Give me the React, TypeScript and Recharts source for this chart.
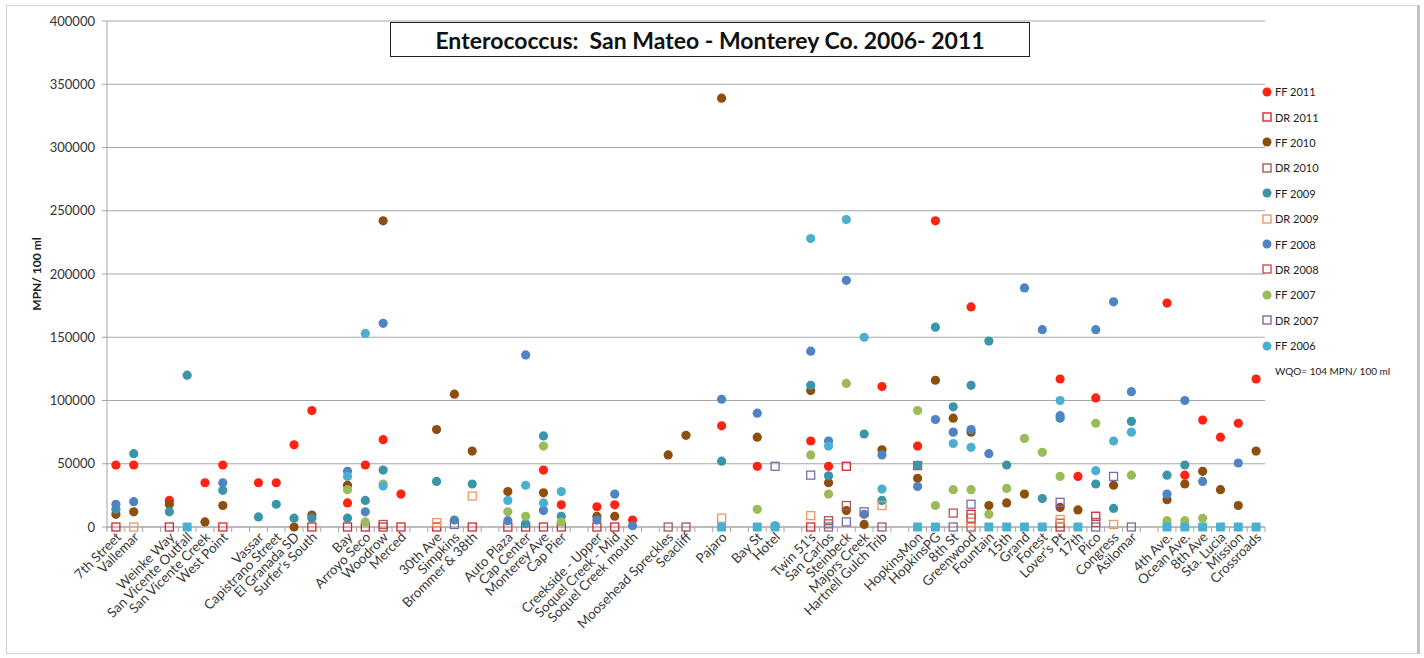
import React from "react";
import { ScatterChart, Scatter, XAxis, YAxis, CartesianGrid, Legend } from "recharts";

const sites = [
  "7th Street", "Vallemar", "",
  "Weinke Way", "San Vicente Outfall", "San Vicente Creek", "West Point", "",
  "Vassar", "Capistrano Street", "El Granada SD", "Surfer's South", "",
  "Bay", "Arroyo Seco", "Woodrow", "Merced", "",
  "30th Ave", "Simpkins", "Brommer & 38th", "",
  "Auto Plaza", "Cap Center", "Monterey Ave", "Cap Pier", "",
  "Creekside - Upper", "Soquel Creek - Mid", "Soquel Creek mouth", "",
  "Moosehead Spreckles", "Seacliff", "",
  "Pajaro", "",
  "Bay St", "Hotel", "",
  "Twin 51's", "San Carlos", "Steinbeck", "Majors Creek", "Hartnell Gulch Trib", "",
  "HopkinsMon", "HopkinsPG", "8th St", "Greenwood", "Fountain", "15th", "Grand", "Forest", "Lover's Pt", "17th", "Pico", "Congress", "Asilomar", "",
  "4th Ave.", "Ocean Ave.", "8th Ave", "Sta. Lucia", "Mission", "Crossroads",
];

const _ = null;

// MPN / 100 ml, one entry per slot in `sites` (null = no sample)
const ff2011 = [
  49000, 49000, _,
  21000, _, 35000, 49000, _,
  35000, 35000, 65000, 92000, _,
  19000, 49000, 69000, 26000, _,
  _, _, _, _,
  _, _, 45000, 17500, _,
  16000, 17500, 5500, _,
  _, _, _,
  80000, _,
  48000, _, _,
  68000, 48000, _, _, 111000, _,
  64000, 242000, _, 174000, _, _, _, _, 117000, 40000, 102000, _, _, _,
  177000, 41000, 84500, 71000, 82000, 117000,
];
const dr2011 = [
  0, _, _,
  0, _, _, 0, _,
  _, _, _, 0, _,
  0, 0, 0, 0, _,
  0, _, 0, _,
  0, 0, 0, 0, _,
  0, 0, _, _,
  _, _, _,
  _, _,
  _, _, _,
  0, _, 48000, _, _, _,
  _, _, _, 10000, _, _, _, _, 0, _, 8500, _, _, _,
  _, _, _, _, _, _,
];
const ff2010 = [
  10000, 12000, _,
  18000, _, 4000, 17000, _,
  _, _, 0, 9500, _,
  33000, _, 242000, _, _,
  77000, 105000, 60000, _,
  28000, _, 27000, _, _,
  8500, 8500, _, _,
  57000, 72500, _,
  339000, _,
  71000, _, _,
  108000, 35000, 13000, 2000, 61000, _,
  38500, 116000, 86000, 75000, 17000, 19000, 26000, _, 15500, 13500, _, 33000, _, _,
  21600, 34000, 44000, 29500, 17000, 60000,
];
const dr2010 = [
  _, _, _,
  _, _, _, _, _,
  _, _, _, _, _,
  _, _, 2000, _, _,
  _, _, _, _,
  _, _, _, _, _,
  _, _, _, _,
  0, 0, _,
  _, _,
  _, _, _,
  _, 5000, 17000, _, 0, _,
  48500, _, _, 0, _, _, _, _, 3000, _, 3600, _, _, _,
  _, _, _, _, _, _,
];
const ff2009 = [
  14000, 58000, _,
  12000, 120000, _, 29000, _,
  8000, 18000, 7000, 7000, _,
  7000, 21000, 45000, _, _,
  36000, 5500, 34000, _,
  _, 2500, 72000, 8500, _,
  _, _, _, _,
  _, _, _,
  52000, _,
  _, 1000, _,
  112000, 40500, _, 73500, 21000, _,
  49000, 158000, 95000, 112000, 147000, 49000, _, 22500, 86000, _, 34000, 14700, 83500, _,
  41000, 49000, _, _, _, _,
];
const dr2009 = [
  _, 0, _,
  _, _, _, _, _,
  _, _, _, _, _,
  _, _, _, _, _,
  3500, _, 24500, _,
  _, _, _, _, _,
  _, _, _, _,
  _, _, _,
  7000, _,
  _, _, _,
  9000, _, _, _, 17000, _,
  _, _, _, 3600, _, _, _, _, 6000, _, _, 2000, _, _,
  _, _, _, _, _, _,
];
const ff2008 = [
  18000, 20000, _,
  _, _, _, 35000, _,
  _, _, _, _, _,
  44000, 12000, 161000, _, _,
  _, _, _, _,
  5000, 136000, 13000, _, _,
  5500, 26000, 1000, _,
  _, _, _,
  101000, _,
  90000, _, _,
  139000, 68000, 195000, 10000, 57000, _,
  32000, 85000, 75000, 77000, 58000, _, 189000, 156000, 88000, _, 156000, 178000, 107000, _,
  26000, 100000, 36000, _, 50600, _,
];
const dr2008 = [
  _, _, _,
  _, _, _, _, _,
  _, _, _, _, _,
  _, _, _, _, _,
  _, _, _, _,
  _, _, _, _, _,
  _, _, _, _,
  _, _, _,
  _, _,
  _, _, _,
  _, 2500, _, _, _, _,
  _, _, 11000, 7000, _, _, _, _, _, _, _, _, _, _,
  _, _, _, _, _, _,
];
const ff2007 = [
  _, _, _,
  _, _, _, _, _,
  _, _, _, _, _,
  29500, 4000, 34000, _, _,
  _, _, _, _,
  12000, 8500, 64000, 4000, _,
  _, _, _, _,
  _, _, _,
  _, _,
  14000, _, _,
  57000, 26000, 113500, _, _, _,
  92000, 17000, 29500, 29500, 10000, 30500, 70000, 59000, 40000, _, 82000, _, 41000, _,
  5000, 5000, 6900, _, _, _,
];
const dr2007 = [
  _, _, _,
  _, _, _, _, _,
  _, _, _, _, _,
  _, _, _, _, _,
  _, 2000, _, _,
  _, _, _, _, _,
  _, _, _, _,
  _, _, _,
  _, _,
  _, 48000, _,
  41000, 0, 4000, 12000, _, _,
  _, _, 0, 18000, _, _, _, _, 19500, _, 0, 40000, 0, _,
  _, _, _, _, _, _,
];
const ff2006 = [
  _, _, _,
  _, _, _, _, _,
  _, _, _, _, _,
  40000, 153000, 32500, _, _,
  _, _, _, _,
  21000, 33000, 19000, 28000, _,
  _, _, _, _,
  _, _, _,
  _, _,
  _, _, _,
  228000, 64000, 243000, 150000, 30000, _,
  _, _, 66000, 63000, _, _, _, _, 100000, _, 44500, 68000, 75000, _,
  _, _, _, _, _, _,
];
// non-detects from 2006, plotted on the axis (no legend entry)
const dr2006 = [
  _, _, _,
  _, 0, _, _, _,
  _, _, _, _, _,
  _, _, _, _, _,
  _, _, _, _,
  _, _, _, _, _,
  _, _, _, _,
  _, _, _,
  0, _,
  0, 0, _,
  _, _, _, _, _, _,
  0, 0, _, _, 0, 0, 0, 0, _, 0, _, _, _, _,
  0, 0, 0, 0, 0, 0,
];

const yTicks = [0, 50000, 100000, 150000, 200000, 250000, 300000, 350000, 400000];

type Kind = "dot" | "box" | "fill";
const series: { name: string; values: (number | null)[]; color: string; kind: Kind; legend?: boolean }[] = [
  { name: "FF 2011", values: ff2011, color: "#FF2314", kind: "dot" },
  { name: "DR 2011", values: dr2011, color: "#D4282C", kind: "box" },
  { name: "FF 2010", values: ff2010, color: "#8E4E0E", kind: "dot" },
  { name: "DR 2010", values: dr2010, color: "#A55A56", kind: "box" },
  { name: "FF 2009", values: ff2009, color: "#3A95A8", kind: "dot" },
  { name: "DR 2009", values: dr2009, color: "#EE9860", kind: "box" },
  { name: "FF 2008", values: ff2008, color: "#4F84C4", kind: "dot" },
  { name: "DR 2008", values: dr2008, color: "#C9504D", kind: "box" },
  { name: "FF 2007", values: ff2007, color: "#9BBB59", kind: "dot" },
  { name: "DR 2007", values: dr2007, color: "#7D6AA6", kind: "box" },
  { name: "FF 2006", values: ff2006, color: "#4BB0CF", kind: "dot" },
  { name: "DR 2006", values: dr2006, color: "#4BB0CF", kind: "fill", legend: false },
];

const toPoints = (values: (number | null)[]) =>
  values.flatMap((v, i) => (v == null ? [] : [{ x: i, y: v }]));

const markShape = (kind: Kind, color: string) => (p: any) => {
  if (kind === "dot") return <circle cx={p.cx} cy={p.cy} r={4.6} fill={color} />;
  if (kind === "fill")
    return <rect x={p.cx - 4.5} y={p.cy - 4.5} width={9} height={9} rx={1.2} fill={color} />;
  return (
    <rect x={p.cx - 4} y={p.cy - 4} width={8} height={8} fill="none" stroke={color} strokeWidth={1.3} />
  );
};

const xTicks = Array.from({ length: sites.length * 2 + 1 }, (_v, i) => -0.5 + i * 0.5);

const SiteTick = (props: any) => {
  const { x, y, payload } = props;
  const v = payload.value;
  if (!Number.isInteger(v)) {
    return <line x1={x} x2={x} y1={y} y2={y + 5} stroke="#a6a6a6" />;
  }
  const name = sites[v];
  if (!name) return <g />;
  const tx = x + 6;
  const ty = y + 11;
  return (
    <text
      x={tx}
      y={ty}
      transform={`rotate(-45 ${tx} ${ty})`}
      textAnchor="end"
      fontSize={13.5}
      fontFamily="Lato"
      fill="#3a3a3a"
    >
      {name}
    </text>
  );
};

const LegendIcon = ({ kind, color }: { kind: Kind; color: string }) => (
  <svg width={12} height={12} style={{ display: "block" }}>
    {kind === "dot" ? (
      <circle cx={6} cy={6} r={4.5} fill={color} />
    ) : (
      <rect x={2} y={2} width={8} height={8} fill="none" stroke={color} strokeWidth={1.4} />
    )}
  </svg>
);

const renderLegend = () => (
  <div style={{ fontFamily: "Lato", fontSize: 11, color: "#222" }}>
    {series
      .filter((s) => s.legend !== false)
      .map((s) => (
        <div key={s.name} style={{ height: 25.4, display: "flex", alignItems: "center" }}>
          <LegendIcon kind={s.kind} color={s.color} />
          <span style={{ marginLeft: 2 }}>{s.name}</span>
        </div>
      ))}
    <div style={{ height: 25.4, display: "flex", alignItems: "center", paddingLeft: 14, fontSize: 10 }}>
      WQO= 104 MPN/ 100 ml
    </div>
  </div>
);

export default function App() {
  return (
    <div style={{ position: "absolute", left: 0, top: 0, width: 1424, height: 658, background: "#fff" }}>
      <div
        style={{
          position: "absolute",
          left: 6,
          top: 5,
          width: 1410,
          height: 647,
          borderTop: "1px solid #d0d0d0",
          borderLeft: "1px solid #d0d0d0",
          borderBottom: "1px solid #d0d0d0",
          borderRight: "3px solid #c4c4c4",
        }}
      />
      <ScatterChart width={1424} height={658} margin={{ top: 21, right: 9, bottom: 6, left: 10 }}>
        <CartesianGrid vertical={false} stroke="#a6a6a6" strokeWidth={1.2} />
        <XAxis
          type="number"
          dataKey="x"
          domain={[-0.5, sites.length - 0.5]}
          ticks={xTicks}
          interval={0}
          allowDecimals
          tickLine={false}
          tickSize={0}
          tickMargin={0}
          tick={<SiteTick />}
          axisLine={{ stroke: "#a6a6a6" }}
          height={125}
        />
        <YAxis
          type="number"
          dataKey="y"
          domain={[0, 400000]}
          ticks={yTicks}
          interval={0}
          width={97}
          tickSize={5}
          tickMargin={7}
          tickLine={{ stroke: "#a6a6a6" }}
          axisLine={{ stroke: "#a6a6a6" }}
          tick={{ fontSize: 13, fill: "#333", fontFamily: "Lato" }}
        />
        <Legend
          layout="vertical"
          verticalAlign="top"
          align="right"
          content={renderLegend}
          wrapperStyle={{ left: 1261, top: 79, width: 150 }}
        />
        {series.map((s) => (
          <Scatter
            key={s.name}
            name={s.name}
            data={toPoints(s.values)}
            fill={s.color}
            shape={markShape(s.kind, s.color)}
            isAnimationActive={false}
          />
        ))}
      </ScatterChart>
      <div
        style={{
          position: "absolute",
          left: 390,
          top: 22,
          width: 640,
          height: 35,
          boxSizing: "border-box",
          border: "1.5px solid #222",
          background: "#fff",
          fontFamily: "Lato",
          fontWeight: 700,
          fontSize: 23,
          color: "#111",
          display: "flex",
          alignItems: "center",
          justifyContent: "center",
          whiteSpace: "pre",
        }}
      >
        {"Enterococcus:  San Mateo - Monterey Co. 2006- 2011"}
      </div>
      <div
        style={{
          position: "absolute",
          left: 36,
          top: 274,
          transform: "translate(-50%, -50%) rotate(-90deg)",
          fontFamily: "Lato",
          fontWeight: 700,
          fontSize: 12,
          color: "#222",
          whiteSpace: "nowrap",
        }}
      >
        MPN/ 100 ml
      </div>
    </div>
  );
}
